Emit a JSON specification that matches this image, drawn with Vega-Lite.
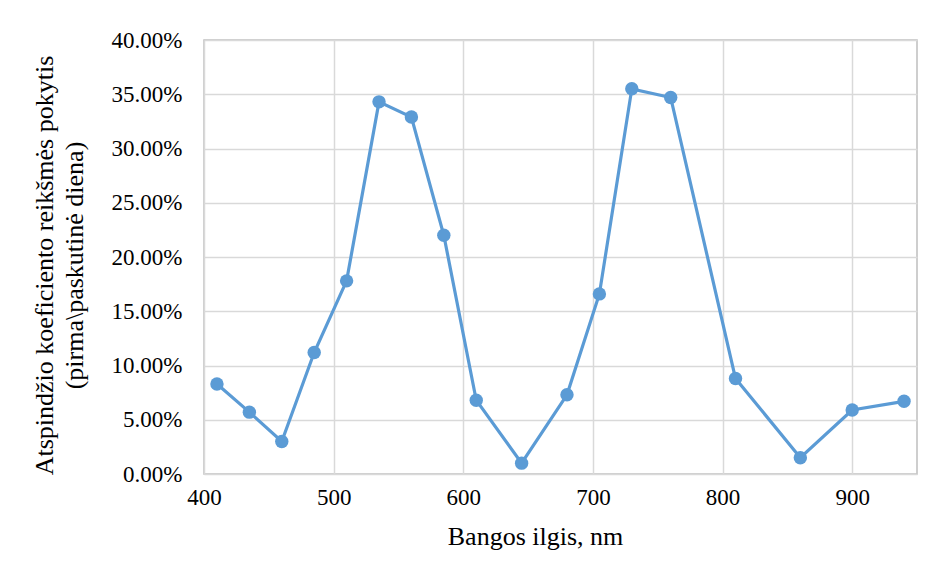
{
  "$schema": "https://vega.github.io/schema/vega-lite/v6.json",
  "width": 713,
  "height": 434,
  "autosize": {"type": "none"},
  "padding": {"left": 204, "top": 40, "right": 33, "bottom": 107},
  "background": "white",
  "config": {
    "font": "Liberation Serif",
    "view": {"stroke": "#bfbfbf", "strokeWidth": 1.5}
  },
  "data": {
    "values": [
      {"nm": 410, "v": 0.083},
      {"nm": 435, "v": 0.057},
      {"nm": 460, "v": 0.030},
      {"nm": 485, "v": 0.112},
      {"nm": 510, "v": 0.178},
      {"nm": 535, "v": 0.343},
      {"nm": 560, "v": 0.329},
      {"nm": 585, "v": 0.220},
      {"nm": 610, "v": 0.068},
      {"nm": 645, "v": 0.010},
      {"nm": 680, "v": 0.073},
      {"nm": 705, "v": 0.166},
      {"nm": 730, "v": 0.355},
      {"nm": 760, "v": 0.347},
      {"nm": 810, "v": 0.088},
      {"nm": 860, "v": 0.015},
      {"nm": 900, "v": 0.059},
      {"nm": 940, "v": 0.067}
    ]
  },
  "mark": {"type": "line", "color": "#5b9bd5", "strokeWidth": 3.2, "point": {"filled": true, "color": "#5b9bd5", "size": 180, "opacity": 1}},
  "encoding": {
    "x": {
      "field": "nm",
      "type": "quantitative",
      "scale": {"domain": [400, 950], "nice": false, "zero": false},
      "axis": {
        "values": [400, 500, 600, 700, 800, 900],
        "title": "Bangos ilgis, nm",
        "titleFont": "Liberation Serif",
        "titleFontSize": 26,
        "titleFontWeight": "normal",
        "titleColor": "#000000",
        "titlePadding": 14,
        "titleX": 331,
        "labelFont": "Liberation Serif",
        "labelFontSize": 23,
        "labelColor": "#000000",
        "labelPadding": 12,
        "labelFlush": false,
        "ticks": false,
        "domain": false,
        "grid": true,
        "gridColor": "#d9d9d9",
        "gridWidth": 1.5
      }
    },
    "y": {
      "field": "v",
      "type": "quantitative",
      "scale": {"domain": [0, 0.4], "nice": false},
      "axis": {
        "values": [0, 0.05, 0.1, 0.15, 0.2, 0.25, 0.3, 0.35, 0.4],
        "format": ".2%",
        "title": ["Atspindžio koeficiento reikšmės pokytis", "(pirma\\paskutinė diena)"],
        "titleFont": "Liberation Serif",
        "titleFontSize": 26,
        "titleFontWeight": "normal",
        "titleColor": "#000000",
        "titleLineHeight": 30,
        "titlePadding": 24,
        "titleY": 225,
        "labelFont": "Liberation Serif",
        "labelFontSize": 23,
        "labelColor": "#000000",
        "labelPadding": 22,
        "labelFlush": false,
        "ticks": false,
        "domain": false,
        "grid": true,
        "gridColor": "#d9d9d9",
        "gridWidth": 1.5
      }
    }
  }
}
